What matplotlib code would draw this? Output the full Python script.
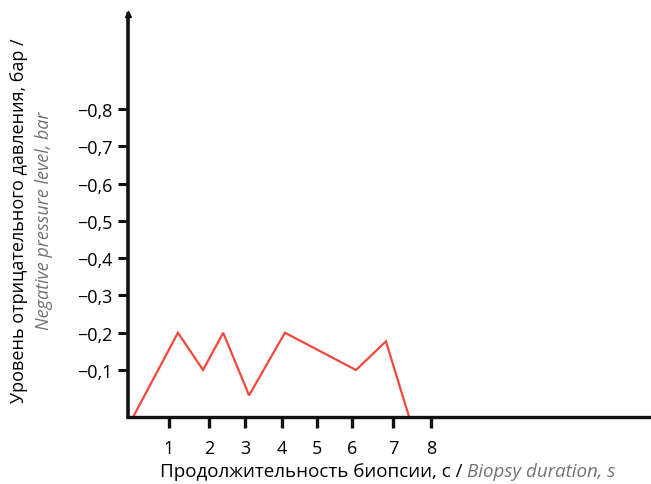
import matplotlib
matplotlib.use("Agg")
import matplotlib.pyplot as plt

# data
time_s = [0.04, 1.24, 1.91, 2.45, 3.14, 4.10, 6.00, 6.80, 7.42]
pressure = [-0.026, 0.20, 0.10, 0.20, 0.032, 0.20, 0.10, 0.177, -0.026]
x_tick_pos = [1.0, 2.07, 3.03, 4.02, 4.96, 5.89, 6.99, 8.0]
x_tick_labels = ["1", "2", "3", "4", "5", "6", "7", "8"]
y_ticks = [0.1, 0.2, 0.3, 0.4, 0.5, 0.6, 0.7, 0.8]
y_tick_labels = ["\u22120,%d" % int(round(v * 10)) for v in y_ticks]

plt.rcParams['font.family'] = ['Open Sans', 'DejaVu Sans']

fig = plt.figure(figsize=(6.51, 4.85), dpi=100)
ax = fig.add_axes([128 / 651, 67 / 485, 522 / 651, 403 / 485])

ax.plot(time_s, pressure, color="#f2483b", lw=1.6, solid_joinstyle="miter", clip_on=False)

ax.set_xlim(-0.096, 13.86)
ax.set_ylim(-0.026, 1.055)

ax.set_xticks(x_tick_pos)
ax.set_xticklabels(x_tick_labels, fontsize=13)
ax.set_yticks(y_ticks)
ax.set_yticklabels(y_tick_labels, fontsize=13)
ax.tick_params(axis="x", direction="out", length=8, width=2.4, pad=8, color="#111111")
ax.tick_params(axis="y", direction="out", length=7, width=2.2, pad=4, color="#111111")

for s in ["top", "right"]:
    ax.spines[s].set_visible(False)
ax.spines["left"].set_linewidth(2.6)
ax.spines["bottom"].set_linewidth(2.4)
ax.spines["left"].set_color("#111111")
ax.spines["bottom"].set_color("#111111")

# arrow head on top of y axis
ax.plot([0], [1], marker="^", color="#111111", markersize=5, transform=ax.transAxes, clip_on=False)

# y label: russian line + english line in grey italic
fig.text(19 / 651, 1 - 221 / 485, "Уровень отрицательного давления, бар /",
         rotation=90, ha="center", va="center", fontsize=13, color="black")
fig.text(44 / 651, 1 - 221 / 485, "Negative pressure level, bar",
         rotation=90, ha="center", va="center", fontsize=13, color="#737373", style="italic")

# x label: two parts side by side
t1 = fig.text(160 / 651, 1 - 472 / 485, "Продолжительность биопсии, с / ",
              ha="left", va="center", fontsize=13.5, color="black")
ax.annotate("Biopsy duration, s", xy=(1, 0.5), xycoords=t1, ha="left", va="center",
            fontsize=13.5, color="#737373", style="italic", annotation_clip=False)

fig.savefig("out.png", dpi=100)
